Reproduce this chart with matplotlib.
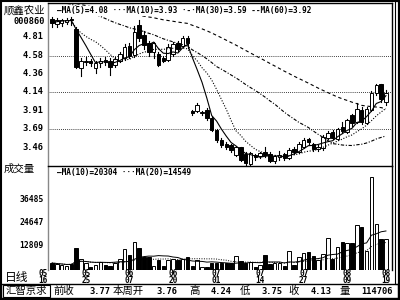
import matplotlib
matplotlib.use('Agg')
import matplotlib.pyplot as plt
from matplotlib.patches import Rectangle
import pandas as pd

plt.rcParams['font.family'] = ['Noto Sans CJK SC', 'DejaVu Sans']

# daily candles, 2005-05-16 .. 2005-08-19
opens = [5.03, 4.97, 4.98, 4.99, 5.03, 4.90, 4.43, 4.50, 4.52, 4.43,
         4.49, 4.53, 4.52, 4.47, 4.52, 4.55, 4.70, 4.59, 4.95, 4.83,
         4.73, 4.63, 4.60, 4.55, 4.53, 4.60, 4.74, 4.70, 4.80, 3.90,
         3.90, 3.88, 3.92, 3.82, 3.67, 3.55, 3.50, 3.49, 3.37, 3.46,
         3.38, 3.26, 3.37, 3.35, 3.40, 3.38, 3.29, 3.34, 3.38, 3.33,
         3.44, 3.40, 3.46, 3.56, 3.50, 3.44, 3.45, 3.58, 3.65, 3.56,
         3.71, 3.65, 3.85, 3.77, 3.92, 3.76, 3.92, 4.12, 4.23, 4.01]
highs = [5.05, 5.04, 5.03, 5.04, 5.05, 4.93, 4.55, 4.56, 4.54, 4.52,
         4.55, 4.56, 4.55, 4.56, 4.62, 4.72, 4.73, 4.94, 5.02, 4.88,
         4.76, 4.75, 4.62, 4.58, 4.72, 4.75, 4.76, 4.82, 4.82, 3.92,
         4.00, 3.91, 3.94, 3.84, 3.68, 3.57, 3.52, 3.50, 3.48, 3.47,
         3.40, 3.40, 3.38, 3.41, 3.46, 3.40, 3.37, 3.42, 3.39, 3.45,
         3.46, 3.52, 3.57, 3.58, 3.51, 3.49, 3.61, 3.66, 3.67, 3.70,
         3.77, 3.81, 3.87, 4.00, 3.95, 3.95, 4.15, 4.24, 4.24, 4.16]
lows = [4.93, 4.93, 4.94, 4.97, 4.95, 4.43, 4.33, 4.46, 4.45, 4.37,
        4.44, 4.47, 4.34, 4.44, 4.50, 4.53, 4.55, 4.56, 4.76, 4.66,
        4.58, 4.55, 4.45, 4.50, 4.52, 4.58, 4.64, 4.68, 4.67, 3.85,
        3.89, 3.86, 3.80, 3.66, 3.53, 3.46, 3.44, 3.41, 3.36, 3.30,
        3.25, 3.25, 3.31, 3.33, 3.34, 3.28, 3.27, 3.31, 3.31, 3.32,
        3.38, 3.39, 3.45, 3.49, 3.42, 3.42, 3.43, 3.56, 3.56, 3.55,
        3.64, 3.64, 3.72, 3.76, 3.75, 3.75, 3.90, 4.10, 4.02, 3.98]
closes = [4.98, 5.01, 5.02, 5.02, 5.01, 4.44, 4.52, 4.52, 4.49, 4.49,
          4.52, 4.50, 4.44, 4.54, 4.60, 4.68, 4.57, 4.87, 4.80, 4.71,
          4.62, 4.73, 4.47, 4.52, 4.69, 4.72, 4.66, 4.79, 4.73, 3.88,
          3.98, 3.89, 3.82, 3.67, 3.55, 3.49, 3.46, 3.43, 3.46, 3.31,
          3.27, 3.39, 3.34, 3.39, 3.37, 3.30, 3.36, 3.37, 3.33, 3.43,
          3.41, 3.50, 3.55, 3.52, 3.44, 3.47, 3.59, 3.63, 3.58, 3.68,
          3.66, 3.79, 3.76, 3.93, 3.77, 3.93, 4.13, 4.22, 4.05, 4.13]
volumes = [3600, 3100, 2600, 2100, 3100, 11300, 5700, 3600, 1500, 2600,
           4100, 2600, 2100, 3600, 5700, 10800, 7700, 14400, 11300, 6700,
           6700, 2100, 5100, 2100, 5100, 5700, 5100, 5700, 6700, 2100,
           5100, 1500, 1500, 3600, 3600, 3400, 3400, 3600, 7200, 4600,
           3400, 4100, 1500, 2600, 7700, 3100, 3600, 3600, 2100, 9800,
           2600, 6700, 8700, 9300, 7200, 5100, 8200, 16500, 5700, 11800,
           14400, 13900, 13900, 23200, 22100, 9800, 47900, 23700, 16000, 16000]
# long averages (they reach back before the first candle)
ma30 = [5.241, 5.233, 5.225, 5.218, 5.210, 5.183, 5.158, 5.134, 5.109, 5.083,
        5.059, 5.034, 5.007, 4.983, 4.962, 4.943, 4.920, 4.907, 4.892, 4.874,
        4.853, 4.836, 4.810, 4.786, 4.767, 4.749, 4.730, 4.714, 4.697, 4.651,
        4.618, 4.581, 4.541, 4.496, 4.447, 4.415, 4.380, 4.344, 4.309, 4.270,
        4.228, 4.191, 4.155, 4.116, 4.075, 4.029, 3.989, 3.939, 3.890, 3.847,
        3.807, 3.766, 3.735, 3.702, 3.660, 3.619, 3.583, 3.544, 3.506, 3.499,
        3.489, 3.485, 3.483, 3.492, 3.499, 3.514, 3.536, 3.563, 3.582, 3.600]
ma60 = [5.245, 5.242, 5.238, 5.234, 5.230, 5.216, 5.204, 5.192, 5.179, 5.167,
        5.155, 5.142, 5.128, 5.117, 5.106, 5.096, 5.085, 5.079, 5.071, 5.062,
        5.052, 5.043, 5.030, 5.018, 5.009, 5.000, 4.990, 4.982, 4.974, 4.951,
        4.930, 4.907, 4.883, 4.857, 4.828, 4.799, 4.769, 4.739, 4.709, 4.677,
        4.644, 4.613, 4.581, 4.550, 4.519, 4.486, 4.455, 4.423, 4.391, 4.361,
        4.330, 4.301, 4.273, 4.244, 4.214, 4.184, 4.156, 4.129, 4.102, 4.075,
        4.053, 4.033, 4.012, 3.994, 3.973, 3.965, 3.958, 3.953, 3.946, 3.930]

price_ticks = [4.81, 4.58, 4.36, 4.14, 3.91, 3.69, 3.46]
grid_ticks = [4.58, 4.14, 3.69]
vol_ticks = [36485, 24647, 12809]
date_idx = [0, 7, 16, 25, 34, 43, 52, 61, 69]
date_labels = ['05\n16', '05\n25', '06\n07', '06\n20', '07\n01', '07\n14', '07\n27', '08\n09', '08\n19']
status_items = [('前收', '3.77'), ('本周开', '3.76'), ('高', '4.24'), ('低', '3.75'), ('收', '4.13'), ('量', '114706')]

W, H = 400, 300
fig = plt.figure(figsize=(4, 3), dpi=100)
fig.patch.set_facecolor('white')

def px_axes(x0, y0, x1, y1):
    return fig.add_axes([x0 / W, 1 - y1 / H, (x1 - x0) / W, (y1 - y0) / H])

def fx(x):
    return x / W

def fy(y):
    return 1 - y / H

n = len(closes)
xs = list(range(n))
xlim = (-0.83, 70.25)
mono = 'DejaVu Sans Mono'

# ---- price panel
ax = px_axes(48, 3, 392, 166)
ax.set_xlim(*xlim)
ax.set_ylim(3.233, 5.223)
for t in grid_ticks:
    ax.axhline(t, color='black', lw=0.6, ls=(0, (1, 1.5)), zorder=1)

for i in xs:
    up = closes[i] >= opens[i]
    ax.plot([i, i], [lows[i], highs[i]], color='black', lw=0.8, zorder=3)
    lo = min(opens[i], closes[i])
    h = max(abs(closes[i] - opens[i]), 0.004)
    ax.add_patch(Rectangle((i - 0.36, lo), 0.72, h, facecolor='white' if up else 'black',
                           edgecolor='black', lw=0.7, zorder=4))

cs = pd.Series(closes)
ma5 = cs.rolling(5, min_periods=1).mean()
ma10 = cs.rolling(10, min_periods=1).mean()
ax.plot(xs, ma5, color='black', lw=0.8, zorder=5)
ax.plot(xs, ma10, color='black', lw=0.8, ls=(0, (1, 1.5)), zorder=5)
ax.plot(xs, ma30, color='black', lw=0.8, ls=(0, (3, 1.5, 1, 1.5)), zorder=5)
ax.plot(xs, ma60, color='black', lw=0.8, ls=(0, (3, 2.5)), zorder=5)

ax.set_xticks([])
ax.set_yticks([])
for s in ax.spines.values():
    s.set_color('black')
    s.set_linewidth(1.0)
ax.spines['left'].set_color('#888888')
ax.spines['bottom'].set_visible(False)

fig.text(fx(57), fy(11), '—MA(5)=4.08 ···MA(10)=3.93 ·-·MA(30)=3.59 --MA(60)=3.92',
         fontsize=5.6, family=mono, fontweight='bold', va='center', ha='left', zorder=10,
         bbox=dict(facecolor='white', edgecolor='none', pad=0.3))

for t in price_ticks:
    ax.text(-0.012, t, f'{t:.2f}', transform=ax.get_yaxis_transform(), ha='right', va='center',
            fontsize=6.3, family=mono, fontweight='bold')

# ---- volume panel
vx = px_axes(48, 166, 392, 270)
vx.set_xlim(*xlim)
vx.set_ylim(0, 53530)
for i in xs:
    up = closes[i] >= opens[i]
    vx.bar(i, volumes[i], width=0.72, color='white' if up else 'black', edgecolor='black', lw=0.7, zorder=3)
vs = pd.Series(volumes)
vx.plot(xs, vs.rolling(10, min_periods=1).mean(), color='black', lw=0.7, zorder=4)
vx.plot(xs, vs.rolling(20, min_periods=1).mean(), color='black', lw=0.7, ls=(0, (1, 1.5)), zorder=4)
vx.set_xticks([])
vx.set_yticks([])
for s in vx.spines.values():
    s.set_color('black')
    s.set_linewidth(1.0)
vx.spines['left'].set_color('#888888')
vx.spines['bottom'].set_visible(False)
fig.text(fx(57), fy(172), '—MA(10)=20304 ···MA(20)=14549', fontsize=5.6,
         family=mono, fontweight='bold', va='center', ha='left')
for t in vol_ticks:
    vx.text(-0.012, t, str(t), transform=vx.get_yaxis_transform(), ha='right', va='center',
            fontsize=5.8, family=mono, fontweight='bold')

# dates under the volume bars
for k, (i, lab) in enumerate(zip(date_idx, date_labels)):
    xd = vx.transData.transform((i, 0))[0] / fig.bbox.width
    if k == 0:
        xd = fx(43)
    fig.text(xd, fy(277), lab, ha='center', va='center', fontsize=5.6, family=mono,
             fontweight='bold', linespacing=0.85)

# left labels
fig.text(fx(24), fy(10), '顺鑫农业', ha='center', va='center', fontsize=7.5)
fig.text(fx(45), fy(21), '000860', ha='right', va='center', fontsize=6.2, family=mono, fontweight='bold')
fig.text(fx(4), fy(169), '成交量', ha='left', va='center', fontsize=7.5)
fig.text(fx(5), fy(277), '日线', ha='left', va='center', fontsize=8.5)

# status bar
fig.add_artist(Rectangle((fx(1), fy(298)), fx(397), 14 / H, transform=fig.transFigure,
                         facecolor='none', edgecolor='black', lw=1.0))
fig.add_artist(Rectangle((fx(3), fy(297)), fx(47), 12 / H, transform=fig.transFigure,
                         facecolor='none', edgecolor='black', lw=0.8))
fig.text(fx(26), fy(291), '汇智京求', ha='center', va='center', fontsize=7.5)
label_x = [53, 113, 189, 240, 288, 340]
value_x = [110, 177, 232, 282, 332, 393]
for (lab, val), lx, vx_ in zip(status_items, label_x, value_x):
    fig.text(fx(lx), fy(291), lab, ha='left', va='center', fontsize=7.5)
    fig.text(fx(vx_), fy(291), val, ha='right', va='center', fontsize=6.3, family=mono, fontweight='bold')

# outer frame
fig.add_artist(Rectangle((fx(0.5), fy(299.5)), fx(398.5), 299 / H, transform=fig.transFigure,
                         facecolor='none', edgecolor='black', lw=1.5))
fig.add_artist(Rectangle((fx(395), fy(284)), fx(3), 283 / H, transform=fig.transFigure,
                         facecolor='none', edgecolor='black', lw=0.8))

fig.savefig('out.png', dpi=100)
